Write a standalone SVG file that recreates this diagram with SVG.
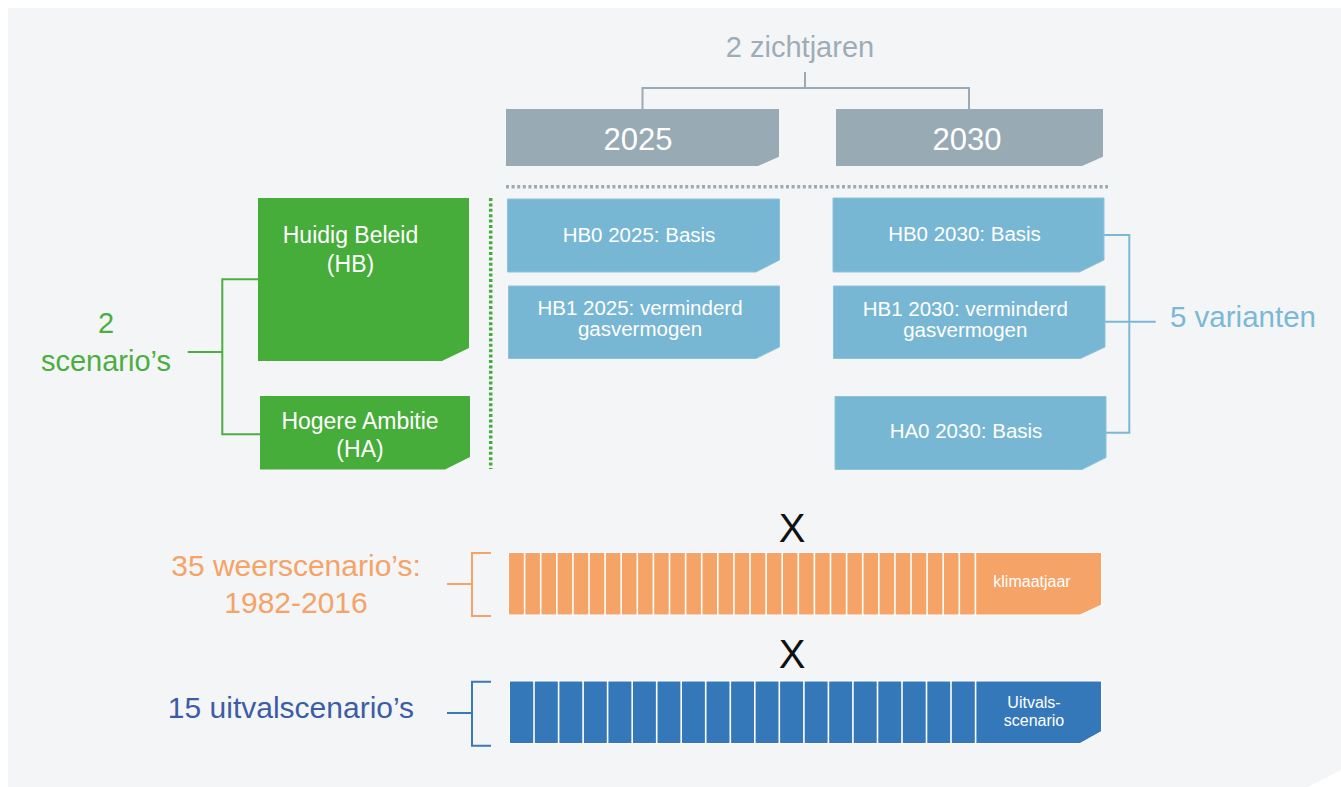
<svg xmlns="http://www.w3.org/2000/svg" width="1341" height="787" viewBox="0 0 1341 787">
<style>
text{font-family:"Liberation Sans",Arial,sans-serif;text-anchor:middle}
.gbox{fill:#98aab4}
.grn{fill:#46ad3a}
.lb{fill:#78b7d4;stroke:#8cc3dc;stroke-width:1}
.wt{fill:#ffffff}
.sep{stroke:#ffffff;stroke-width:1.6;fill:none}
.ln{fill:none;stroke-width:2}
</style>
<polygon points="8,8 1341,8 1341,770 1308,787 8,787" fill="#f4f5f7"/>
<g id="connectors">
<path class="ln" d="M805,72 V88 M642.5,109 V88 H969 V109" stroke="#9aabb5" stroke-width="1.6"/>
<path d="M506,186.7 H1108" stroke="#9aabb5" stroke-width="3.5" stroke-dasharray="3 2.6" fill="none"/>
<path class="ln" d="M187.7,352 H222.3 M258,279.3 H222.3 V434.3 H260" stroke="#4cae41"/>
<path d="M490.7,198 V469" stroke="#44ac3a" stroke-width="3.5" stroke-dasharray="3 2.4" fill="none"/>
<path class="ln" d="M1104,235 H1129.3 V432.7 H1106 M1105,321.7 H1155.7" stroke="#7ab9d6"/>
<path class="ln" d="M447,584 H472 M491,553 H472 V616 H491" stroke="#f5a367"/>
<path class="ln" d="M447,713 H472 M491,681.7 H472 V745.7 H491" stroke="#3a78b8"/>
</g>
<g id="label-zichtjaren"><text x="800" y="57" font-size="29" fill="#9dadb7">2 zichtjaren</text></g>
<g id="node-2025">
<path class="gbox" d="M506,109 H779 V156.7 L758,166 H506 Z"/>
<text class="wt" x="638" y="150" font-size="31">2025</text>
</g>
<g id="node-2030">
<path class="gbox" d="M836,109 H1103 V156.7 L1082,166 H836 Z"/>
<text class="wt" x="967" y="150" font-size="31">2030</text>
</g>
<g id="label-scenarios">
<text x="106" y="333" font-size="29" fill="#4cae41">2</text>
<text x="106" y="370.5" font-size="29" fill="#4cae41">scenario’s</text>
</g>
<g id="node-hb">
<path class="grn" d="M258,198 H469 V348 L442,361 H258 Z"/>
<text class="wt" x="350.5" y="242.5" font-size="23">Huidig Beleid</text>
<text class="wt" x="350.5" y="272" font-size="23">(HB)</text>
</g>
<g id="node-ha">
<path class="grn" d="M260,396 H470 V457 L445,469.5 H260 Z"/>
<text class="wt" x="360" y="429" font-size="23">Hogere Ambitie</text>
<text class="wt" x="360" y="456.5" font-size="23">(HA)</text>
</g>
<g id="node-hb0-2025">
<path class="lb" d="M507.5,199 H779.5 V260 L756,272 H507.5 Z"/>
<text class="wt" x="639" y="241.7" font-size="20.5">HB0 2025: Basis</text>
</g>
<g id="node-hb1-2025">
<path class="lb" d="M508.5,286 H779.5 V347 L756,358.5 H508.5 Z"/>
<text class="wt" x="640" y="315" font-size="20.5">HB1 2025: verminderd</text>
<text class="wt" x="640" y="336" font-size="20.5">gasvermogen</text>
</g>
<g id="node-hb0-2030">
<path class="lb" d="M833,198 H1104 V260 L1079.5,272 H833 Z"/>
<text class="wt" x="964.5" y="241" font-size="20.5">HB0 2030: Basis</text>
</g>
<g id="node-hb1-2030">
<path class="lb" d="M833.5,286 H1105 V347 L1080.5,358.5 H833.5 Z"/>
<text class="wt" x="965.3" y="316" font-size="20.5">HB1 2030: verminderd</text>
<text class="wt" x="965.3" y="337" font-size="20.5">gasvermogen</text>
</g>
<g id="node-ha0-2030">
<path class="lb" d="M835,396.5 H1106 V457.5 L1082,469.5 H835 Z"/>
<text class="wt" x="966" y="438.3" font-size="20.5">HA0 2030: Basis</text>
</g>
<g id="label-varianten"><text x="1243" y="327" font-size="29.5" fill="#7ab9d6">5 varianten</text></g>
<g id="x1"><text x="792" y="541.7" font-size="40" fill="#111111">X</text></g>
<g id="label-weer">
<text x="296" y="576" font-size="30" fill="#f5a367">35 weerscenario’s:</text>
<text x="296" y="612.7" font-size="30" fill="#f5a367">1982-2016</text>
</g>
<g id="node-weer-bar">
<path d="M508.5,552.5 H1101.5 V605 L1080,615 H508.5 Z" fill="#f5a367" stroke="#ffffff" stroke-width="1"/>
<path class="sep" d="M524.6,552.5V615M540.7,552.5V615M556.8,552.5V615M572.9,552.5V615M589,552.5V615M605.1,552.5V615M621.2,552.5V615M637.3,552.5V615M653.4,552.5V615M669.5,552.5V615M685.6,552.5V615M701.7,552.5V615M717.8,552.5V615M733.9,552.5V615M750,552.5V615M766.1,552.5V615M782.2,552.5V615M798.3,552.5V615M814.4,552.5V615M830.5,552.5V615M846.6,552.5V615M862.7,552.5V615M878.8,552.5V615M894.9,552.5V615M911,552.5V615M927.1,552.5V615M943.2,552.5V615M959.3,552.5V615M975.4,552.5V615"/>
<text class="wt" x="1032" y="587.3" font-size="16">klimaatjaar</text>
</g>
<g id="x2"><text x="792" y="668.3" font-size="40" fill="#111111">X</text></g>
<g id="label-uitval"><text x="291" y="718.3" font-size="30" fill="#3c5da6">15 uitvalscenario’s</text></g>
<g id="node-uitval-bar">
<path d="M509.5,681 H1101.5 V731.5 L1080,743.5 H509.5 Z" fill="#3578ba" stroke="#ffffff" stroke-width="1"/>
<path class="sep" d="M534,681V743.5M558.6,681V743.5M583.1,681V743.5M607.6,681V743.5M632.2,681V743.5M656.7,681V743.5M681.2,681V743.5M705.7,681V743.5M730.3,681V743.5M754.8,681V743.5M779.3,681V743.5M803.9,681V743.5M828.4,681V743.5M852.9,681V743.5M877.5,681V743.5M902,681V743.5M926.5,681V743.5M951,681V743.5M975.6,681V743.5"/>
<text class="wt" x="1034" y="708.3" font-size="16">Uitvals-</text>
<text class="wt" x="1034" y="725.5" font-size="16">scenario</text>
</g>
</svg>
